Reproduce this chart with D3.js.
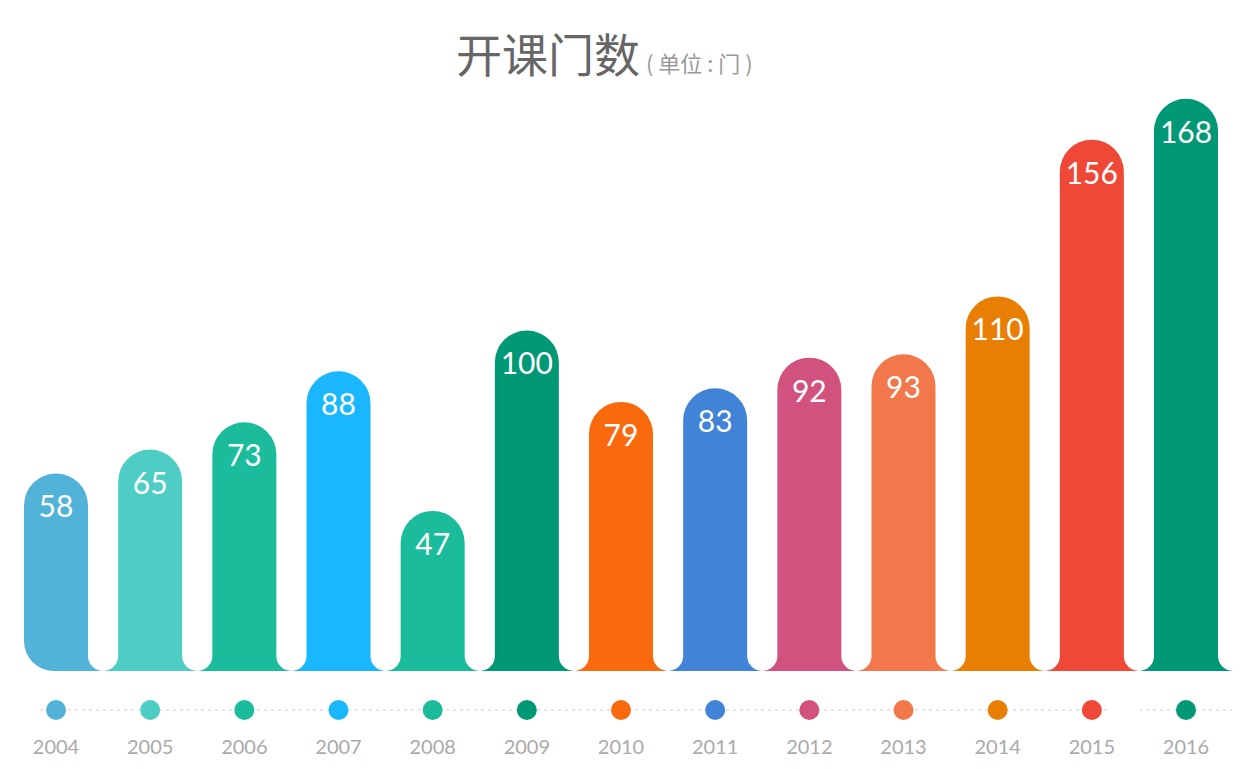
<!DOCTYPE html>
<html><head><meta charset="utf-8">
<script src="https://cdn.jsdelivr.net/npm/d3@7"></script>
<style>body{margin:0;background:#fff}</style>
</head><body>
<svg id="chart" width="1255" height="769"></svg>
<script>
const years = ["2004","2005","2006","2007","2008","2009","2010","2011","2012","2013","2014","2015","2016"]
const courses = [58,65,73,88,47,100,79,83,92,93,110,156,168]
const colors = ["#52b3d9","#4ecdc4","#1abc9c","#1ab7ff","#1abc9c","#019875","#f9690e","#4183d7","#d2527f","#f2784b","#e87e04","#ef4836","#019875"]

const svg = d3.select("#chart")
const base = 671, w = 64, r = 32, f = 15

const x = d3.scalePoint().domain(years).range([56, 1186])
const y = d3.scaleLinear().domain([0, 170]).range([base, 92])

// title
const title = svg.append("text").attr("x", 456).attr("y", 72).attr("text-anchor", "start")
    .style("font-family", "'Noto Sans CJK SC'")
title.append("tspan").text("开课门数").attr("font-size", 46).attr("fill", "#666")
title.append("tspan").text("( 单位 : 门 )").attr("font-size", 22).attr("fill", "#999").attr("dx", 6)

function barPath(d, i) {
    const cx = x(years[i]), L = cx - w / 2, R = cx + w / 2, t = y(d)
    let p
    if (i === 0) p = `M${L + 30},${base} A30,30 0 0 1 ${L},${base - 30}`
    else p = `M${L - f},${base} A${f},${f} 0 0 0 ${L},${base - f}`
    p += ` L${L},${t + r} A${r},${r} 0 0 1 ${R},${t + r} L${R},${base - f} A${f},${f} 0 0 0 ${R + f},${base} Z`
    return p
}

svg.selectAll(".bar").data(courses).join("path")
    .attr("class", "bar")
    .attr("d", barPath)
    .attr("fill", (d, i) => colors[i])

svg.selectAll(".val").data(courses).join("text")
    .attr("x", (d, i) => x(years[i]))
    .attr("y", d => y(d) + 44)
    .attr("text-anchor", "middle")
    .attr("fill", "#fff")
    .attr("font-size", 30)
    .style("font-family", "Lato")
    .text(d => d)

// timeline
svg.append("line").attr("x1", 40).attr("x2", 1232).attr("y1", 710).attr("y2", 710)
    .attr("stroke", "#ccc").attr("stroke-dasharray", "3,4")
svg.append("rect").attr("x", 1108).attr("y", 705).attr("width", 32).attr("height", 10).attr("fill", "#fff")

svg.selectAll(".dot").data(years).join("circle")
    .attr("cx", d => x(d)).attr("cy", 710).attr("r", 10)
    .attr("fill", (d, i) => colors[i])

svg.selectAll(".yr").data(years).join("text")
    .attr("x", d => x(d)).attr("y", 754)
    .attr("text-anchor", "middle").attr("fill", "#aaa")
    .attr("font-size", 20).style("font-family", "Lato")
    .text(d => d)
</script>
</body></html>
